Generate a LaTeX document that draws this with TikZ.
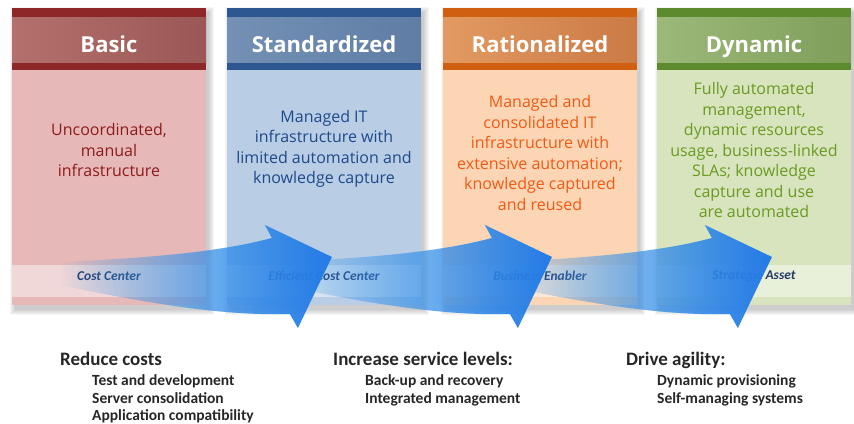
\documentclass[tikz,border=0pt]{standalone}
\usepackage{fontspec}
\setmainfont{Open Sans}
\newfontfamily\narrowfont{Carlito}
\usetikzlibrary{fadings}

\definecolor{band-basic}{HTML}{8E2828}
\definecolor{headl-basic}{HTML}{B3706C}
\definecolor{head-basic}{HTML}{9A5755}
\definecolor{body-basic}{HTML}{E6B9B8}
\definecolor{text-basic}{HTML}{8C1C1C}
\definecolor{band-std}{HTML}{2D5791}
\definecolor{headl-std}{HTML}{7490B4}
\definecolor{head-std}{HTML}{5F7DA5}
\definecolor{body-std}{HTML}{B9CDE5}
\definecolor{text-std}{HTML}{1F4A8A}
\definecolor{band-rat}{HTML}{D0600F}
\definecolor{headl-rat}{HTML}{E29A62}
\definecolor{head-rat}{HTML}{CB7A44}
\definecolor{body-rat}{HTML}{FCD5B5}
\definecolor{text-rat}{HTML}{F05A14}
\definecolor{band-dyn}{HTML}{5C8A2C}
\definecolor{headl-dyn}{HTML}{9DB97A}
\definecolor{head-dyn}{HTML}{7F9E5A}
\definecolor{body-dyn}{HTML}{D8E4BD}
\definecolor{text-dyn}{HTML}{6A9A22}
\definecolor{footnavy}{HTML}{23396A}
\definecolor{goaltext}{HTML}{262626}
\definecolor{arrowcyan}{HTML}{62CCEE}
\definecolor{arrowblue}{HTML}{2176E6}

\tikzfading[name=tailfade, left color=transparent!100, middle color=transparent!35, right color=transparent!25]
\tikzfading[name=headfade, left color=transparent!100, middle color=transparent!85, right color=transparent!5]

\begin{document}
\begin{tikzpicture}[x=1pt, y=-1pt,
  title/.style={anchor=base, text=white, font=\bfseries\fontsize{22}{24}\selectfont},
  desc/.style={align=center, font=\fontsize{16}{20.5}\selectfont},
  level/.style={text=footnavy, font=\narrowfont\bfseries\itshape\fontsize{13.5}{15}\selectfont},
  goal/.style={anchor=base west, inner sep=0pt, text=goaltext, font=\narrowfont\bfseries\fontsize{19}{22}\selectfont},
  goalitem/.style={anchor=base west, inner sep=0pt, text=goaltext, font=\narrowfont\bfseries\fontsize{15.5}{19}\selectfont},
  arrowtail/.style={fill=arrowcyan, path fading=tailfade},
  arrowhead/.style={fill=arrowblue, path fading=headfade}]
\useasboundingbox (0,0) rectangle (854,423);

% the four stage columns
\foreach \x/\c in {12/basic, 227/std, 443/rat, 657/dyn} {
  \foreach \s in {0,...,5}
    \fill[black, opacity=0.035] (\x+3-\s,12-\s) rectangle (\x+197+\s,310+\s);
  \fill[body-\c] (\x,8) rectangle (\x+194,305);
  \fill[white, opacity=0.45] (\x,265) rectangle (\x+194,297);
  \fill[band-\c] (\x,8) rectangle (\x+194,70);
  \fill[left color=headl-\c, right color=head-\c] (\x,17) rectangle (\x+194,62);
}

\node[title] (basic-title) at (109,52) {Basic};
\node[title] (std-title) at (324,52) {Standardized};
\node[title] (rat-title) at (540,52) {Rationalized};
\node[title] (dyn-title) at (754,52) {Dynamic};

\node[desc, text=text-basic] (basic-desc) at (109,150) {Uncoordinated,\\manual\\infrastructure};
\node[desc, text=text-std] (std-desc) at (324,149) {Managed IT\\infrastructure with\\limited automation and\\knowledge capture};
\node[desc, text=text-rat] (rat-desc) at (540,153) {Managed and\\consolidated IT\\infrastructure with\\extensive automation;\\knowledge captured\\and reused};
\node[desc, text=text-dyn] (dyn-desc) at (754,150) {Fully automated\\management,\\dynamic resources\\usage, business-linked\\SLAs; knowledge\\capture and use\\are automated};

\node[level] (basic-level) at (109,276) {Cost Center};
\node[level] (std-level) at (324,276) {Efficient Cost Center};
\node[level] (rat-level) at (540,276) {Business Enabler};
\node[level] (dyn-level) at (754,276) {Strategic Asset};

% curved arrows between the stages
\foreach \dx in {440,220,0}
  \foreach \layer in {arrowtail,arrowhead}
    \fill[\layer, shift={(\dx,0)}]
      (60,262) .. controls (150,258) and (220,252) .. (272,238)
      -- (265,225) -- (332,257) -- (298,328) -- (290,314)
      .. controls (225,316) and (150,304) .. (60,285) -- cycle;

% goals under the stages
\node[goal] (reduce) at (60,365) {Reduce costs};
\node[goalitem] (reduce-1) at (92,385) {Test and development};
\node[goalitem] (reduce-2) at (92,403) {Server consolidation};
\node[goalitem] (reduce-3) at (92,420) {Application compatibility};

\node[goal] (service) at (333,365) {Increase service levels:};
\node[goalitem] (service-1) at (365,385) {Back-up and recovery};
\node[goalitem] (service-2) at (365,403) {Integrated management};

\node[goal] (agility) at (626,365) {Drive agility:};
\node[goalitem] (agility-1) at (657,385) {Dynamic provisioning};
\node[goalitem] (agility-2) at (657,403) {Self-managing systems};
\end{tikzpicture}
\end{document}
